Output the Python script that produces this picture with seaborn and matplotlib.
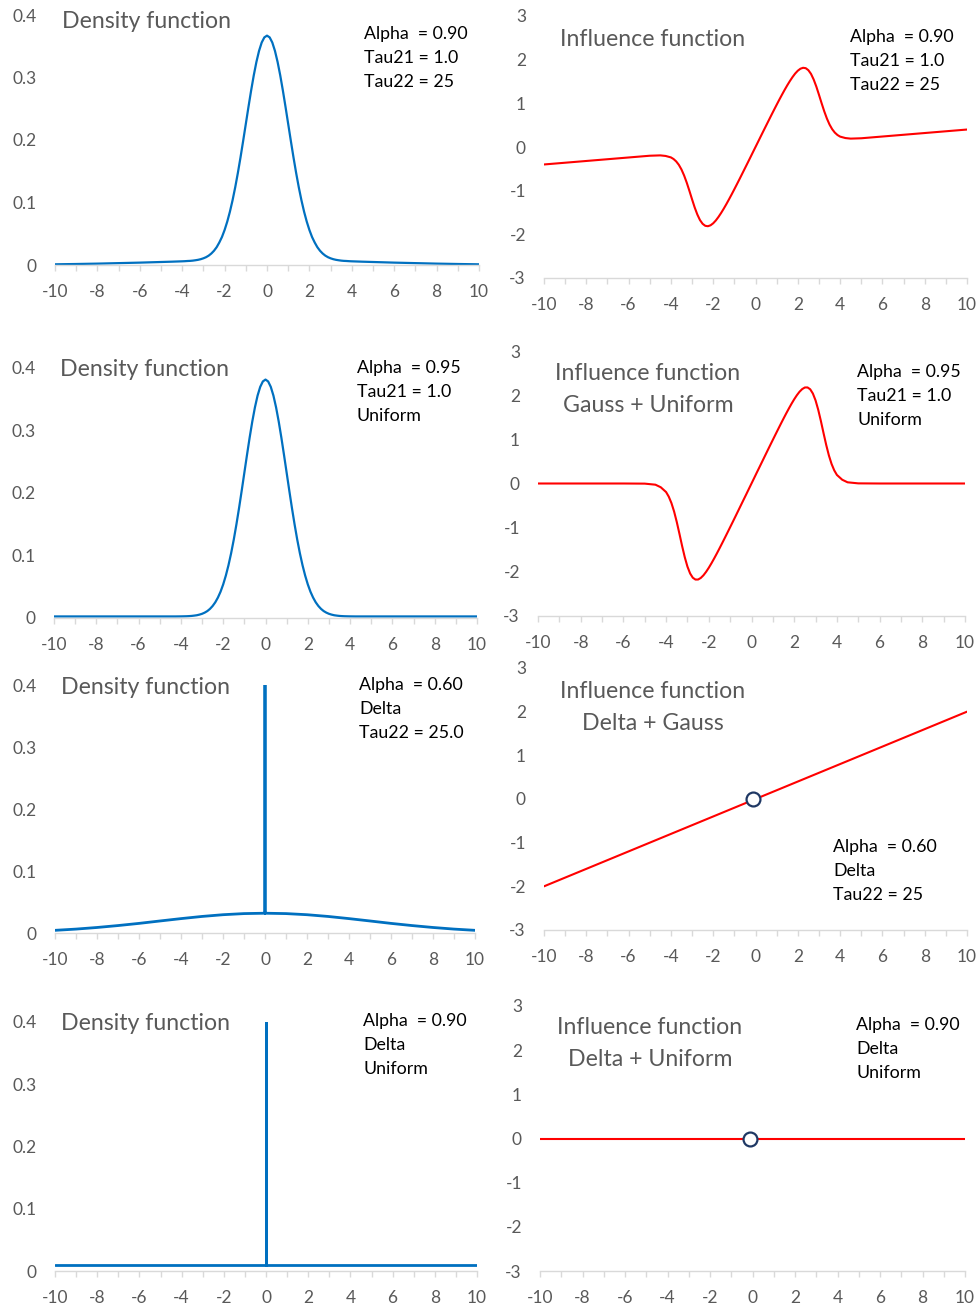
import matplotlib
matplotlib.use("Agg")
import matplotlib.pyplot as plt
import seaborn as sns

# ---------------- data ----------------
x_fine = [-10, -9, -8, -7, -6, -5, -4.5, -4.25,
          -4, -3.875, -3.75, -3.625, -3.5, -3.375, -3.25, -3.125, -3, -2.875, -2.75, -2.625,
          -2.5, -2.375, -2.25, -2.125, -2, -1.875, -1.75, -1.625, -1.5, -1.375, -1.25, -1.125,
          -1, -0.875, -0.75, -0.625, -0.5, -0.375, -0.25, -0.125,
          0,
          0.125, 0.25, 0.375, 0.5, 0.625, 0.75, 0.875, 1,
          1.125, 1.25, 1.375, 1.5, 1.625, 1.75, 1.875, 2, 2.125, 2.25, 2.375, 2.5,
          2.625, 2.75, 2.875, 3, 3.125, 3.25, 3.375, 3.5, 3.625, 3.75, 3.875, 4,
          4.25, 4.5, 5, 6, 7, 8, 9, 10]

# Panel 1: density, Alpha 0.90, Tau21 1.0, Tau22 25
dens_gauss_gauss = [0.0011, 0.0016, 0.0022, 0.0030, 0.0038, 0.0048, 0.0053, 0.0056,
                    0.0059, 0.0061, 0.0064, 0.0066, 0.0070, 0.0076, 0.0083, 0.0093, 0.0107, 0.0125, 0.0150, 0.0184,
                    0.0228, 0.0285, 0.0360, 0.0448, 0.0560, 0.0694, 0.0852, 0.1035, 0.1242, 0.1472, 0.1721, 0.1985,
                    0.2256, 0.2527, 0.2789, 0.3033, 0.3248, 0.3426, 0.3560, 0.3642,
                    0.3670,
                    0.3642, 0.3560, 0.3426, 0.3248, 0.3033, 0.2789, 0.2527, 0.2256,
                    0.1985, 0.1721, 0.1472, 0.1242, 0.1035, 0.0852, 0.0694, 0.0560, 0.0448, 0.0360, 0.0285, 0.0228,
                    0.0184, 0.0150, 0.0125, 0.0107, 0.0093, 0.0083, 0.0076, 0.0070, 0.0066, 0.0064, 0.0061, 0.0059,
                    0.0056, 0.0053, 0.0048, 0.0038, 0.0030, 0.0022, 0.0016, 0.0011]

# Panel 2: influence, Alpha 0.90, Tau21 1.0, Tau22 25
infl_gauss_gauss = [-0.400, -0.360, -0.320, -0.280, -0.240, -0.200, -0.192, -0.205,
                    -0.238, -0.275, -0.330, -0.408, -0.515, -0.653, -0.818, -1.004, -1.198, -1.385, -1.546, -1.674,
                    -1.759, -1.805, -1.814, -1.793, -1.747, -1.682, -1.601, -1.510, -1.411, -1.306, -1.196, -1.083,
                    -0.967, -0.849, -0.730, -0.609, -0.488, -0.367, -0.245, -0.122,
                    0.0,
                    0.122, 0.245, 0.367, 0.488, 0.609, 0.730, 0.849, 0.967,
                    1.083, 1.196, 1.306, 1.411, 1.510, 1.601, 1.682, 1.747, 1.793, 1.814, 1.805, 1.759,
                    1.674, 1.546, 1.385, 1.198, 1.004, 0.818, 0.653, 0.515, 0.408, 0.330, 0.275, 0.238,
                    0.205, 0.192, 0.200, 0.240, 0.280, 0.320, 0.360, 0.400]

# Panel 3: density, Alpha 0.95, Tau21 1.0, Uniform
dens_gauss_unif = [0.0025, 0.0025, 0.0025, 0.0025, 0.0025, 0.0025, 0.0025, 0.0025,
                   0.0026, 0.0027, 0.0028, 0.0030, 0.0033, 0.0038, 0.0044, 0.0054, 0.0067, 0.0086, 0.0111, 0.0146,
                   0.0192, 0.0251, 0.0327, 0.0421, 0.0538, 0.0679, 0.0845, 0.1037, 0.1255, 0.1498, 0.1760, 0.2038,
                   0.2324, 0.2609, 0.2886, 0.3143, 0.3370, 0.3558, 0.3698, 0.3785,
                   0.3815,
                   0.3785, 0.3698, 0.3558, 0.3370, 0.3143, 0.2886, 0.2609, 0.2324,
                   0.2038, 0.1760, 0.1498, 0.1255, 0.1037, 0.0845, 0.0679, 0.0538, 0.0421, 0.0327, 0.0251, 0.0192,
                   0.0146, 0.0111, 0.0086, 0.0067, 0.0054, 0.0044, 0.0038, 0.0033, 0.0030, 0.0028, 0.0027, 0.0026,
                   0.0025, 0.0025, 0.0025, 0.0025, 0.0025, 0.0025, 0.0025, 0.0025]

# Panel 4: influence, Gauss + Uniform
infl_gauss_unif = [0.0, 0.0, 0.0, 0.0, 0.0, -0.003, -0.027, -0.085,
                   -0.194, -0.298, -0.443, -0.635, -0.872, -1.139, -1.415, -1.670, -1.882, -2.037, -2.133, -2.175,
                   -2.174, -2.138, -2.078, -1.999, -1.907, -1.806, -1.698, -1.586, -1.470, -1.352, -1.232, -1.111,
                   -0.989, -0.867, -0.744, -0.620, -0.496, -0.372, -0.249, -0.124,
                   0.0,
                   0.124, 0.249, 0.372, 0.496, 0.620, 0.744, 0.867, 0.989,
                   1.111, 1.232, 1.352, 1.470, 1.586, 1.698, 1.806, 1.907, 1.999, 2.078, 2.138, 2.174,
                   2.175, 2.133, 2.037, 1.882, 1.670, 1.415, 1.139, 0.872, 0.635, 0.443, 0.298, 0.194,
                   0.085, 0.027, 0.003, 0.0, 0.0, 0.0, 0.0, 0.0]

# Panels 5 and 7: coarse grid with the delta spike at 0 (clipped at the axis top)
x_delta = [-10, -9, -8, -7, -6, -5, -4, -3, -2, -1, 0, 0, 0, 1, 2, 3, 4, 5, 6, 7, 8, 9, 10]
# Panel 5: density, Alpha 0.60, Delta, Tau22 25
dens_delta_gauss = [0.0043, 0.0063, 0.0089, 0.0120, 0.0155, 0.0194, 0.0232, 0.0267, 0.0295, 0.0313,
                    0.0319, 0.40, 0.0319,
                    0.0313, 0.0295, 0.0267, 0.0232, 0.0194, 0.0155, 0.0120, 0.0089, 0.0063, 0.0043]
# Panel 7: density, Alpha 0.90, Delta, Uniform
dens_delta_unif = [0.010, 0.010, 0.010, 0.010, 0.010, 0.010, 0.010, 0.010, 0.010, 0.010,
                   0.010, 0.40, 0.010,
                   0.010, 0.010, 0.010, 0.010, 0.010, 0.010, 0.010, 0.010, 0.010, 0.010]

x_line = [-10, -8, -6, -4, -2, 0, 2, 4, 6, 8, 10]
# Panel 6: influence, Delta + Gauss
infl_delta_gauss = [-2.0, -1.6, -1.2, -0.8, -0.4, 0.0, 0.4, 0.8, 1.2, 1.6, 2.0]
# Panel 8: influence, Delta + Uniform
infl_delta_unif = [0.0, 0.0, 0.0, 0.0, 0.0, 0.0, 0.0, 0.0, 0.0, 0.0, 0.0]

# open circle at the delta point
circle_x = [-0.1]
circle_y = [0.0]

x_ticks = [-10, -8, -6, -4, -2, 0, 2, 4, 6, 8, 10]
dens_ticks = [0, 0.1, 0.2, 0.3, 0.4]
dens_ticklabels = ["0", "0.1", "0.2", "0.3", "0.4"]
infl_ticks = [-3, -2, -1, 0, 1, 2, 3]

# ---------------- style ----------------
sns.set_theme(style="white")
plt.rcParams['font.family'] = ['Lato', 'DejaVu Sans']

BLUE = "#0070C0"
RED = "#FF0000"
GRAY = "#595959"
AXIS = "#D9D9D9"
W, H = 980, 1308

fig = plt.figure(figsize=(W / 100, H / 100), dpi=100)


def add_ax(L, R, T, B):
    return fig.add_axes([L / W, 1 - B / H, (R - L) / W, (B - T) / H])


def style(ax, kind):
    ax.set_xlim(-10, 10)
    if kind == "dens":
        ax.set_ylim(0, 0.4)
        ax.set_yticks(dens_ticks)
        ax.set_yticklabels(dens_ticklabels)
    else:
        ax.set_ylim(-3, 3)
        ax.set_yticks(infl_ticks)
        ax.set_yticklabels([str(v) for v in infl_ticks])
    ax.set_xticks(x_ticks)
    ax.set_xticklabels([str(v) for v in x_ticks])
    ax.set_xticks(list(range(-10, 11)), minor=True)
    for s in ["top", "right", "left"]:
        ax.spines[s].set_visible(False)
    ax.spines["bottom"].set_color(AXIS)
    ax.spines["bottom"].set_linewidth(1.0)
    ax.tick_params(axis="x", which="both", direction="out", length=4, width=1,
                   color=AXIS, labelcolor=GRAY, labelsize=12.5, pad=10, bottom=True)
    ax.tick_params(axis="y", length=0, labelcolor=GRAY, labelsize=12.5, pad=13)
    ax.set_xlabel("")
    ax.set_ylabel("")
    ax.patch.set_alpha(0)


def ftext(x, y, s, **kw):
    fig.text(x / W, 1 - y / H, s, va="center", **kw)


def title(x, y, lines, ha="left"):
    for i, ln in enumerate(lines):
        ftext(x, y + i * 31, ln, ha=ha, color=GRAY, fontsize=16.7)


def note(x, y, lines):
    for i, ln in enumerate(lines):
        ftext(x, y + i * 24, ln, ha="left", color="black", fontsize=12.8)


def curve(ax, xs, ys, color, lw):
    sns.lineplot(x=xs, y=ys, ax=ax, color=color, linewidth=lw, sort=False,
                 estimator=None, errorbar=None)


# Row 1
ax1 = add_ax(55, 479, 15, 265)
curve(ax1, x_fine, dens_gauss_gauss, BLUE, 1.6)
style(ax1, "dens")
title(62, 21, ["Density function"])
note(364, 34, ["Alpha  = 0.90", "Tau21 = 1.0", "Tau22 = 25"])

ax2 = add_ax(544, 967, 16, 278)
curve(ax2, x_fine, infl_gauss_gauss, RED, 1.5)
style(ax2, "infl")
title(560, 39, ["Influence function"])
note(850, 37, ["Alpha  = 0.90", "Tau21 = 1.0", "Tau22 = 25"])

# Row 2
ax3 = add_ax(54, 477, 368, 618)
curve(ax3, x_fine, dens_gauss_unif, BLUE, 1.6)
style(ax3, "dens")
title(60, 370, ["Density function"])
note(357, 368, ["Alpha  = 0.95", "Tau21 = 1.0", "Uniform"])

ax4 = add_ax(538, 965, 351, 616)
curve(ax4, x_fine, infl_gauss_unif, RED, 1.5)
style(ax4, "infl")
title(648, 374, ["Influence function", "Gauss + Uniform"], ha="center")
note(857, 372, ["Alpha  = 0.95", "Tau21 = 1.0", "Uniform"])

# Row 3
ax5 = add_ax(55, 475, 685, 933)
curve(ax5, x_delta, dens_delta_gauss, BLUE, 2.0)
style(ax5, "dens")
title(61, 687, ["Density function"])
note(359, 685, ["Alpha  = 0.60", "Delta", "Tau22 = 25.0"])

ax6 = add_ax(544, 967, 668, 930)
curve(ax6, x_line, infl_delta_gauss, RED, 1.5)
sns.scatterplot(x=circle_x, y=circle_y, ax=ax6, s=100, facecolor="white",
                edgecolor="#1F3864", linewidth=1.6, zorder=5)
style(ax6, "infl")
title(653, 692, ["Influence function", "Delta + Gauss"], ha="center")
note(833, 847, ["Alpha  = 0.60", "Delta", "Tau22 = 25"])

# Row 4
ax7 = add_ax(55, 477, 1022, 1271)
curve(ax7, x_delta, dens_delta_unif, BLUE, 2.0)
style(ax7, "dens")
title(61, 1023, ["Density function"])
note(363, 1021, ["Alpha  = 0.90", "Delta", "Uniform"])

ax8 = add_ax(540, 965, 1006, 1271)
curve(ax8, x_line, infl_delta_unif, RED, 1.5)
sns.scatterplot(x=circle_x, y=circle_y, ax=ax8, s=100, facecolor="white",
                edgecolor="#1F3864", linewidth=1.6, zorder=5)
style(ax8, "infl")
title(650, 1028, ["Influence function", "Delta + Uniform"], ha="center")
note(856, 1025, ["Alpha  = 0.90", "Delta", "Uniform"])

fig.savefig("out.png", dpi=100)
